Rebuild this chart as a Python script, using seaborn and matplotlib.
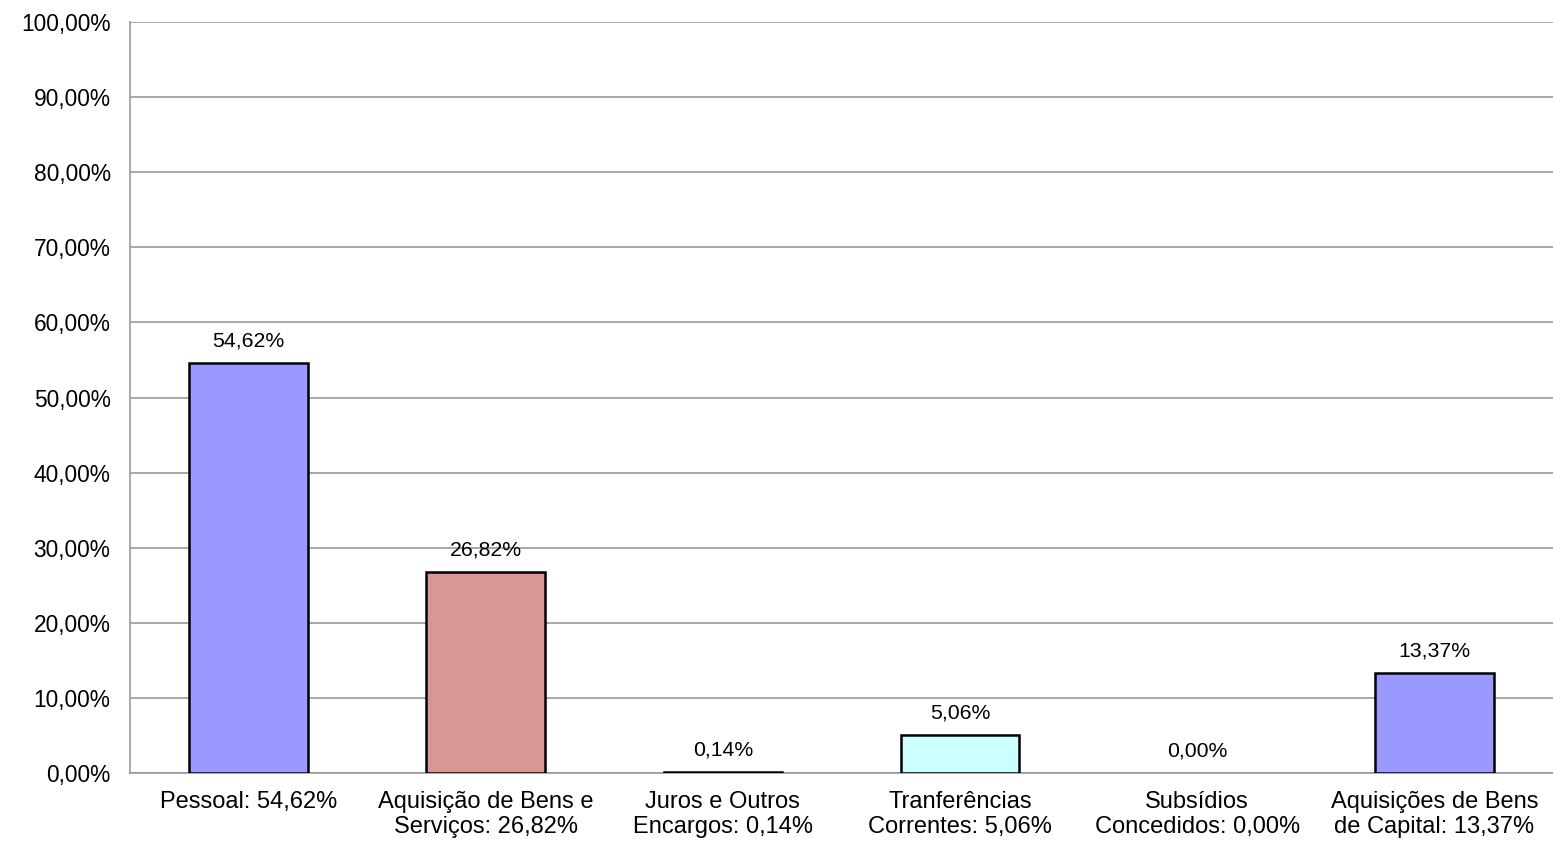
import matplotlib
matplotlib.use("Agg")
import matplotlib.pyplot as plt
import seaborn as sns
import pandas as pd
from matplotlib.ticker import FixedLocator, FuncFormatter

# Data
categorias = ["Pessoal: 54,62%", "Aquisição de Bens e\nServiços: 26,82%",
              "Juros e Outros\nEncargos: 0,14%", "Tranferências\nCorrentes: 5,06%",
              "Subsídios\nConcedidos: 0,00%", "Aquisições de Bens\nde Capital: 13,37%"]
valores = [54.62, 26.82, 0.14, 5.06, 0.00, 13.37]
cores = ["#9999FF", "#D99694", "#FFFFCC", "#CCFFFF", "#9999FF", "#9999FF"]

df = pd.DataFrame({"cat": categorias, "val": valores})

sns.set_style("white")
plt.rcParams["font.family"] = ["Liberation Sans", "DejaVu Sans"]
plt.rcParams["text.color"] = "black"
plt.rcParams["xtick.color"] = "black"
plt.rcParams["ytick.color"] = "black"

fig = plt.figure(figsize=(15.53, 8.44), dpi=100)
ax = fig.add_axes([130 / 1553, 71 / 844, 1423 / 1553, 751 / 844])

sns.barplot(data=df, x="cat", y="val", hue="cat", palette=cores, legend=False,
            width=0.5, edgecolor="black", linewidth=1.8, saturation=1, ax=ax, zorder=3)

# hide outline of zero-height bars
for p, v in zip(ax.patches, valores):
    if v == 0:
        p.set_linewidth(0)

# value labels
for i, v in enumerate(valores):
    ax.text(i, v + 1.6, f"{v:.2f}%".replace(".", ","), ha="center", va="bottom",
            fontsize=15.3, color="black")

ax.set_ylim(0, 100)
ax.set_xlim(-0.5, len(categorias) - 0.5)
ax.set_yticks(range(0, 101, 10))
ax.yaxis.set_major_formatter(FuncFormatter(lambda y, _: f"{y:.2f}%".replace(".", ",")))
ax.yaxis.grid(True, color="#999999", linewidth=1.2, zorder=0)
ax.set_axisbelow(True)

# ticks between categories
ax.xaxis.set_major_locator(FixedLocator([i + 0.5 for i in range(-1, len(categorias))]))
ax.xaxis.set_major_formatter(FuncFormatter(lambda x, _: ""))
ax.xaxis.set_minor_locator(FixedLocator(range(len(categorias))))
ax.set_xticklabels(categorias, minor=True)
ax.tick_params(axis="x", which="major", direction="out", length=6, width=1.2, color="#999999")
ax.tick_params(axis="x", which="minor", length=0, labelsize=17, pad=13)
ax.tick_params(axis="y", direction="out", length=6, width=1.2, color="#999999",
               labelsize=16.4, pad=8)

ax.set_xlabel("")
ax.set_ylabel("")
for s in ["top", "right"]:
    ax.spines[s].set_visible(False)
for s in ["left", "bottom"]:
    ax.spines[s].set_color("#999999")
    ax.spines[s].set_linewidth(1.2)

fig.savefig("out.png", dpi=100)
